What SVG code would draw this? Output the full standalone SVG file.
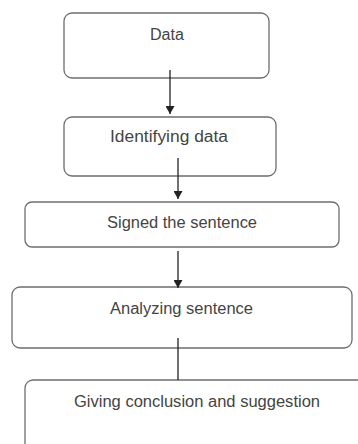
<svg xmlns="http://www.w3.org/2000/svg" width="358" height="444" viewBox="0 0 358 444">
<style>
.box{fill:#fff;stroke:#6e6e6e;stroke-width:1.3}
.lbl{font-family:"Liberation Sans",Arial,sans-serif;font-size:16px;fill:#444;text-anchor:middle}
.con{stroke:#222;stroke-width:1.3;fill:none}
</style>
<defs>
<marker id="ah" viewBox="0 0 10 10" refX="10" refY="5" markerWidth="8" markerHeight="9" markerUnits="userSpaceOnUse" orient="auto" preserveAspectRatio="none">
<path d="M0,0 L10,5 L0,10 z" fill="#222"/>
</marker>
</defs>
<rect width="358" height="444" fill="#fff"/>
<g id="n1"><rect class="box" x="64" y="13" width="205" height="65" rx="8"/><text class="lbl" x="167" y="40" textLength="34" lengthAdjust="spacingAndGlyphs">Data</text></g>
<g id="n2"><rect class="box" x="64" y="117" width="212" height="59" rx="8"/><text class="lbl" x="169" y="142" textLength="118" lengthAdjust="spacingAndGlyphs">Identifying data</text></g>
<g id="n3"><rect class="box" x="25" y="202" width="314" height="45" rx="7"/><text class="lbl" x="182" y="228" textLength="150" lengthAdjust="spacingAndGlyphs">Signed the sentence</text></g>
<g id="n4"><rect class="box" x="12" y="287" width="340" height="61" rx="8"/><text class="lbl" x="181.5" y="314" textLength="143" lengthAdjust="spacingAndGlyphs">Analyzing sentence</text></g>
<g id="n5"><rect class="box" x="25" y="380" width="345" height="75" rx="8"/><text class="lbl" x="197" y="407" textLength="246" lengthAdjust="spacingAndGlyphs">Giving conclusion and suggestion</text></g>
<g id="connectors">
<line class="con" x1="170" y1="70" x2="170" y2="114" marker-end="url(#ah)"/>
<line class="con" x1="178" y1="158" x2="178" y2="199" marker-end="url(#ah)"/>
<line class="con" x1="178" y1="251" x2="178" y2="288" marker-end="url(#ah)"/>
<line class="con" x1="178" y1="338" x2="178" y2="380"/>
</g>
</svg>
